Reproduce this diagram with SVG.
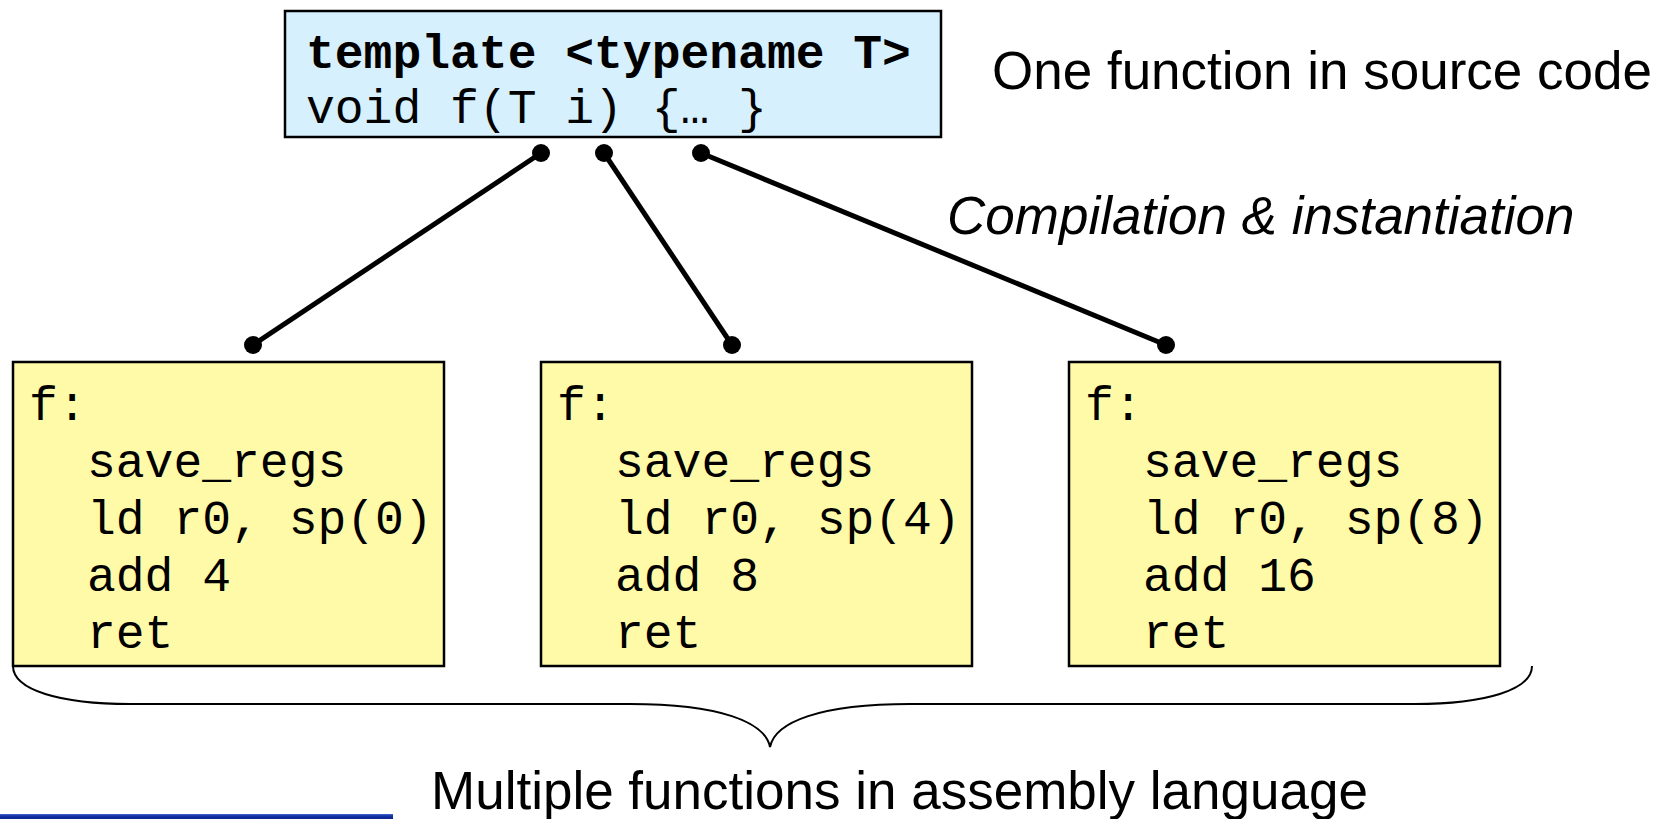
<svg xmlns="http://www.w3.org/2000/svg" width="1666" height="819" viewBox="0 0 1666 819">
  <style>
    .box { stroke: #000; stroke-width: 2.5; }
    .src { fill: #d6f0fd; }
    .asm { fill: #fffaa8; }
    .mono { font-family: "Liberation Mono", "Courier New", monospace; font-size: 48px; fill: #000; }
    .bold { font-weight: bold; }
    .label { font-family: "Liberation Sans", Arial, sans-serif; font-size: 53px; fill: #000; }
    .link { stroke: #000; stroke-width: 5; fill: none; }
    .dot { fill: #000; }
    .brace { stroke: #000; stroke-width: 2; fill: none; }
  </style>
  <defs>
    <linearGradient id="barFill" x1="0" y1="0" x2="0" y2="1">
      <stop offset="0" stop-color="#4d6fd6"/>
      <stop offset="0.35" stop-color="#1433a6"/>
      <stop offset="1" stop-color="#0c2590"/>
    </linearGradient>
  </defs>

  <rect width="1666" height="819" fill="#fff"/>

  <!-- source template -->
  <g id="node-template">
    <rect class="box src" x="285" y="11" width="656" height="126"/>
    <text class="mono bold" x="306" y="68">template &lt;typename T&gt;</text>
    <text class="mono" x="306" y="123">void f(T i) {… }</text>
  </g>

  <g id="label-source">
    <text class="label" x="992" y="89">One function in source code</text>
  </g>
  <g id="label-compile">
    <text class="label" x="947" y="234" font-style="italic">Compilation &amp; instantiation</text>
  </g>

  <!-- instantiation links -->
  <g id="connectors">
    <line class="link" x1="541" y1="153" x2="253" y2="345"/>
    <line class="link" x1="604" y1="153" x2="732" y2="345"/>
    <line class="link" x1="701" y1="153" x2="1166" y2="345"/>
    <circle class="dot" cx="541" cy="153" r="9"/>
    <circle class="dot" cx="604" cy="153" r="9"/>
    <circle class="dot" cx="701" cy="153" r="9"/>
    <circle class="dot" cx="253" cy="345" r="9"/>
    <circle class="dot" cx="732" cy="345" r="9"/>
    <circle class="dot" cx="1166" cy="345" r="9"/>
  </g>

  <!-- assembly instances -->
  <g id="node-asm-1">
    <rect class="box asm" x="13" y="362" width="431" height="304"/>
    <text class="mono" x="29" y="420">f:</text>
    <text class="mono" x="87" y="477">save_regs</text>
    <text class="mono" x="87" y="534">ld r0, sp(0)</text>
    <text class="mono" x="87" y="591">add 4</text>
    <text class="mono" x="87" y="648">ret</text>
  </g>
  <g id="node-asm-2">
    <rect class="box asm" x="541" y="362" width="431" height="304"/>
    <text class="mono" x="557" y="420">f:</text>
    <text class="mono" x="615" y="477">save_regs</text>
    <text class="mono" x="615" y="534">ld r0, sp(4)</text>
    <text class="mono" x="615" y="591">add 8</text>
    <text class="mono" x="615" y="648">ret</text>
  </g>
  <g id="node-asm-3">
    <rect class="box asm" x="1069" y="362" width="431" height="304"/>
    <text class="mono" x="1085" y="420">f:</text>
    <text class="mono" x="1143" y="477">save_regs</text>
    <text class="mono" x="1143" y="534">ld r0, sp(8)</text>
    <text class="mono" x="1143" y="591">add 16</text>
    <text class="mono" x="1143" y="648">ret</text>
  </g>

  <!-- grouping brace -->
  <g id="brace">
    <path class="brace" d="M 13 666 C 13 690, 60 704, 130 704 L 630 704 C 720 704, 765 722, 770 747 C 775 722, 820 704, 910 704 L 1415 704 C 1485 704, 1532 690, 1532 666"/>
  </g>

  <g id="label-assembly">
    <text class="label" x="431" y="809">Multiple functions in assembly language</text>
  </g>

  <rect x="0" y="814" width="393" height="5" fill="url(#barFill)"/>
</svg>
